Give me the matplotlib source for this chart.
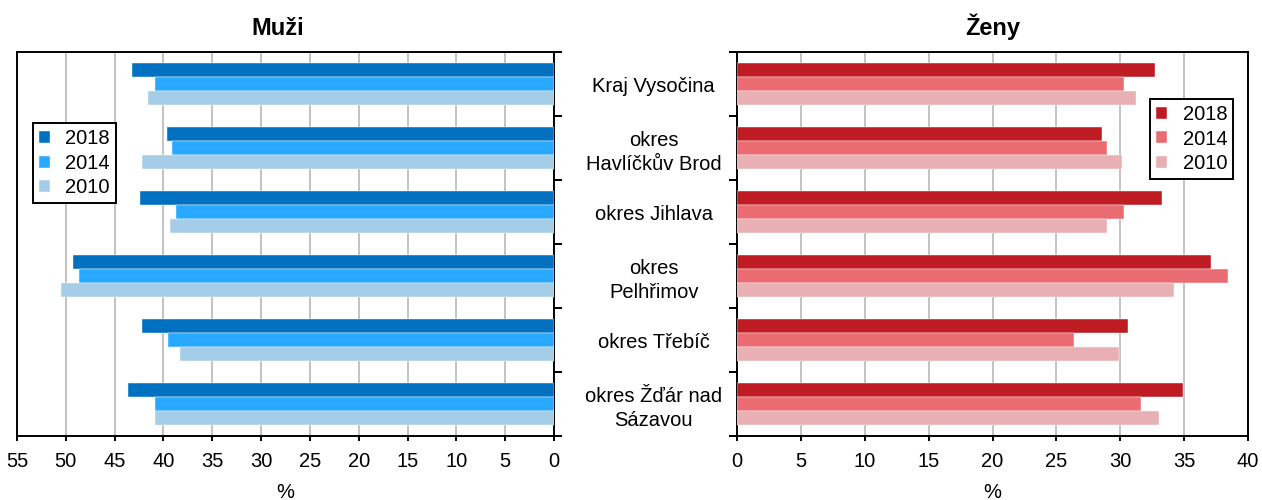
import matplotlib.pyplot as plt
import numpy as np

plt.rcParams['font.family'] = ['Liberation Sans', 'DejaVu Sans']

kategorie = ['Kraj Vysočina', 'okres\nHavlíčkův Brod', 'okres Jihlava',
             'okres\nPelhřimov', 'okres Třebíč', 'okres Žďár nad\nSázavou']
roky = ['2018', '2014', '2010']

# muzi
muzi_2018 = [43.2, 39.6, 42.4, 49.3, 42.2, 43.6]
muzi_2014 = [40.9, 39.1, 38.7, 48.6, 39.5, 40.9]
muzi_2010 = [41.6, 42.2, 39.3, 50.5, 38.3, 40.9]
# zeny
zeny_2018 = [32.7, 28.6, 33.3, 37.1, 30.6, 34.9]
zeny_2014 = [30.3, 29.0, 30.3, 38.4, 26.4, 31.6]
zeny_2010 = [31.2, 30.1, 29.0, 34.2, 29.9, 33.0]

barvy_m = ['#0070C0', '#29A8FF', '#A6CDE8']
barvy_z = ['#BE1B23', '#EA6C73', '#E8B0B3']

FS = 14.5

fig = plt.figure(figsize=(12.62, 5), dpi=100)
ax1 = fig.add_axes([17/1262, 64/500, 537/1262, 384/500])
ax2 = fig.add_axes([737/1262, 64/500, 511/1262, 384/500])

y = np.arange(len(kategorie))
h = 0.22
hranice = np.arange(-0.5, len(kategorie), 1.0)


def kresli(ax, data, barvy):
    for k, (vals, c) in enumerate(zip(data, barvy)):
        ax.barh(y + (k - 1) * h, vals, height=h, color=c, edgecolor='white',
                linewidth=0.3, label=roky[k], zorder=3)
    ax.set_ylim(5.5, -0.5)
    ax.xaxis.grid(True, color='#BEBEBE', linewidth=1.3, zorder=0)
    ax.set_axisbelow(True)
    for s in ax.spines.values():
        s.set_linewidth(1.4)
    ax.set_yticks(hranice)
    ax.set_yticklabels([])
    ax.tick_params(axis='y', which='major', length=6, width=1.4, direction='out')
    ax.tick_params(axis='x', labelsize=FS, length=3.5, width=1.4, pad=8)
    ax.set_xlabel('%', fontsize=FS, labelpad=9)


def legenda(ax, **kw):
    leg = ax.legend(fontsize=FS, handlelength=0.55, handleheight=0.55,
                    handletextpad=0.75, labelspacing=0.28, fancybox=False,
                    edgecolor='black', borderpad=0.3, borderaxespad=0,
                    framealpha=1, **kw)
    leg.get_frame().set_linewidth(1.4)


kresli(ax1, [muzi_2018, muzi_2014, muzi_2010], barvy_m)
ax1.set_xlim(55, 0)
ax1.set_xticks(np.arange(0, 56, 5))
ax1.yaxis.tick_right()
ax1.set_title('Muži', fontsize=17, fontweight='bold', pad=12, x=0.485)
legenda(ax1, loc='upper left', bbox_to_anchor=(0.03, 0.815))

kresli(ax2, [zeny_2018, zeny_2014, zeny_2010], barvy_z)
ax2.set_xlim(0, 40)
ax2.set_xticks(np.arange(0, 41, 5))
ax2.set_yticks(y, minor=True)
ax2.set_yticklabels(kategorie, minor=True, fontsize=FS, ha='center',
                    linespacing=1.3)
ax2.tick_params(axis='y', which='minor', length=0, pad=60)
ax2.set_title('Ženy', fontsize=17, fontweight='bold', pad=12)
legenda(ax2, loc='upper right', bbox_to_anchor=(0.971, 0.878))

fig.savefig('out.png', dpi=100)
